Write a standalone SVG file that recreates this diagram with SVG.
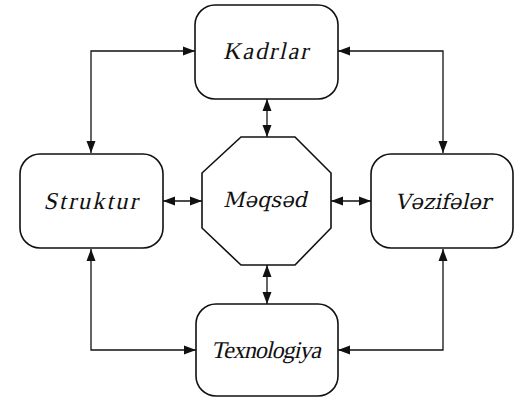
<svg xmlns="http://www.w3.org/2000/svg" width="515" height="398" viewBox="0 0 515 398">
  <style>
    .box { fill: #fff; stroke: #111; stroke-width: 1.6; }
    .lbl { font-size: 24px; fill: #111; text-anchor: middle; }
    .lbl2 { font-size: 21px; fill: #111; text-anchor: middle; }
    .con { fill: none; stroke: #111; stroke-width: 1.3; marker-start: url(#ah); marker-end: url(#ah); }
  </style>
  <defs>
    <marker id="ah" markerUnits="userSpaceOnUse" markerWidth="13" markerHeight="10" refX="12" refY="4.5" orient="auto-start-reverse" viewBox="0 0 13 9">
      <path d="M0,0 L12,4.5 L0,9 Z" fill="#111"/>
    </marker>
  </defs>
  <rect width="515" height="398" fill="#fff"/>

  <g id="connectors">
    <path class="con" d="M91,153 V51 H195"/>
    <path class="con" d="M338,51 H443 V153"/>
    <path class="con" d="M91,249 V350 H196"/>
    <path class="con" d="M338,350 H443 V249"/>
    <path class="con" d="M267,99 V137"/>
    <path class="con" d="M267,265 V304"/>
    <path class="con" d="M163,201 H202"/>
    <path class="con" d="M331,201 H371"/>
  </g>

  <!-- labels: upright serif faces slanted with skewX to read as italic;
       words with the schwa use DejaVu Serif, which carries that glyph -->
  <g id="kadrlar">
    <rect class="box" x="195" y="5" width="143" height="94" rx="20"/>
    <text class="lbl" font-family="'Liberation Serif'" transform="translate(265.5,59) skewX(-13)" textLength="85" lengthAdjust="spacing">Kadrlar</text>
  </g>
  <g id="struktur">
    <rect class="box" x="20" y="154" width="143" height="94" rx="20"/>
    <text class="lbl" font-family="'Liberation Serif'" transform="translate(90.5,209) skewX(-13)" textLength="94" lengthAdjust="spacing">Struktur</text>
  </g>
  <g id="meqsed">
    <polygon class="box" points="241,137 295,137 331,173 331,228 295,265 241,265 202,228 202,173"/>
    <text class="lbl2" font-family="'DejaVu Serif'" transform="translate(265,207) skewX(-13)" textLength="84" lengthAdjust="spacingAndGlyphs">Məqsəd</text>
  </g>
  <g id="vezifeler">
    <rect class="box" x="371" y="154" width="142" height="94" rx="20"/>
    <text class="lbl2" font-family="'DejaVu Serif'" transform="translate(443,209) skewX(-13)" textLength="96" lengthAdjust="spacingAndGlyphs">Vəzifələr</text>
  </g>
  <g id="texnologiya">
    <rect class="box" x="196" y="304" width="142" height="92" rx="20"/>
    <text class="lbl" font-family="'Liberation Serif'" transform="translate(266,358) skewX(-13)" textLength="110" lengthAdjust="spacing">Texnologiya</text>
  </g>
</svg>
